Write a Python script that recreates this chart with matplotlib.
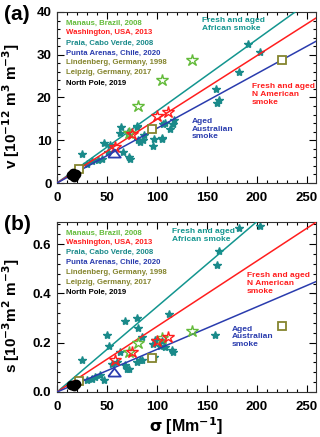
import matplotlib
matplotlib.use("Agg")
import matplotlib.pyplot as plt
from matplotlib.ticker import MultipleLocator, FormatStrFormatter

plt.rcParams['font.family'] = ['Liberation Sans', 'DejaVu Sans']
plt.rcParams['font.weight'] = 'bold'
plt.rcParams['mathtext.default'] = 'bf'

# ---------------- data ----------------
# Praia, Cabo Verde (teal filled stars)
praia_sig_a = [24.7, 34.7, 41.3, 44.7, 47.3, 53, 51.3, 63.7, 63, 66.3, 72, 73, 79.7, 80.7, 83, 86.3,
               87.3, 97.3, 104.7, 95.7, 106.3, 113, 116.3, 117.3, 105, 108, 71, 80, 30,
               158.7, 162, 160, 182, 190.7, 203]
praia_v = [6.7, 5.1, 5.3, 5.5, 9.4, 8.8, 7.3, 13.1, 11.6, 7.3, 6.0, 5.5, 13.1, 10.1, 9.6, 10.1,
           11.2, 10.3, 10.3, 8.6, 13.9, 12.6, 13.9, 14.8, 10.5, 14.0, 11.9, 13.3, 4.5,
           22.0, 19.5, 18.7, 26.0, 32.6, 30.7]
praia_sig_b = [24.7, 50.3, 52, 68, 79.7, 80.7, 84.7, 112.3, 63, 54.7, 59.7, 68, 69.7, 72, 47.3,
               43, 38, 34.7, 29.7, 79.7, 83, 85.3, 97.3, 96.3, 98, 104.7, 108, 114.7, 116.3,
               103, 158, 160, 162, 182, 203]
praia_s = [0.128, 0.231, 0.185, 0.288, 0.301, 0.259, 0.224, 0.317, 0.161, 0.115, 0.121, 0.108,
           0.095, 0.095, 0.048, 0.068, 0.059, 0.053, 0.048, 0.121, 0.128, 0.130, 0.141, 0.195,
           0.210, 0.208, 0.181, 0.171, 0.164, 0.188, 0.232, 0.517, 0.571, 0.664, 0.675]

# Manaus, Brazil (green open stars)
manaus_sig = [72, 81.3, 104.7, 134.7]
manaus_v = [11.6, 17.9, 24.0, 28.8]
manaus_s = [0.164, 0.197, 0.219, 0.248]

# Washington, USA (red open stars)
wash_sig = [58, 75, 99.5, 111]
wash_v = [8.4, 11.5, 15.6, 16.7]
wash_s = [0.131, 0.161, 0.205, 0.224]

# Punta Arenas, Chile (blue open triangle)
punta_sig = [56.7]
punta_v = [7.0]
punta_s = [0.081]

# Lindenberg 1998 / Leipzig 2017 (olive open squares)
linden_sig = [94.7, 224.7]
linden_v = [12.7, 28.8]
linden_s = [0.137, 0.268]
leipzig_sig = [22.3]
leipzig_v = [3.2]
leipzig_s = [0.043]

# North Pole (black filled circles)
np_sig = [14, 17, 19, 16]
np_v = [1.8, 1.5, 2.0, 2.3]
np_s = [0.030, 0.025, 0.032, 0.028]

# fit lines (slopes)
slope_v = {'africa': 0.168, 'namerica': 0.149, 'australia': 0.128}
slope_s = {'africa': 0.00346, 'namerica': 0.00266, 'australia': 0.00173}

legend_labels = ["Manaus, Brazil, 2008", "Washington, USA, 2013", "Praia, Cabo Verde, 2008",
                 "Punta Arenas, Chile, 2020", "Lindenberg, Germany, 1998",
                 "Leipzig, Germany, 2017", "North Pole, 2019"]

# ---------------- styles ----------------
C_GREEN = '#63bb3a'
C_RED = '#ff1e1e'
C_TEAL = '#1a8a8a'
C_TEALLINE = '#13958f'
C_BLUE = '#2a3cae'
C_OLIVE = '#85852e'
C_BLACK = '#000000'
legend_colors = [C_GREEN, C_RED, C_TEAL, C_BLUE, C_OLIVE, C_OLIVE, C_BLACK]

XMAX = 259
fig = plt.figure(figsize=(3.2, 4.37), dpi=100)
ax_a = fig.add_axes([57/320, 1-183/437, 259/320, 171/437])
ax_b = fig.add_axes([57/320, 1-392/437, 259/320, 170/437])

tri = [(-1, -0.65), (1, -0.65), (0, 0.65), (-1, -0.65)]


def draw(ax, praia_x, praia_y, man_y, wash_y, punta_y, lind_y, leip_y, np_y, slopes):
    ax.plot(praia_x, praia_y, ls='none', marker='*', ms=6, color=C_TEAL, mec=C_TEAL, zorder=2)
    xs = [0, XMAX]
    ax.plot(xs, [0, slopes['africa']*XMAX], color=C_TEALLINE, lw=1.1, zorder=3)
    ax.plot(xs, [0, slopes['namerica']*XMAX], color=C_RED, lw=1.1, zorder=3)
    ax.plot(xs, [0, slopes['australia']*XMAX], color=C_BLUE, lw=1.1, zorder=3)
    ax.plot(manaus_sig, man_y, ls='none', marker='*', ms=9, mfc='none', mec=C_GREEN, mew=1.0, zorder=4)
    ax.plot(wash_sig, wash_y, ls='none', marker='*', ms=9, mfc='none', mec=C_RED, mew=1.0, zorder=4)
    ax.plot(punta_sig, punta_y, ls='none', marker=tri, ms=9, mfc='none', mec=C_BLUE, mew=1.3, zorder=4)
    ax.plot(linden_sig, lind_y, ls='none', marker='s', ms=6, mfc='white', mec=C_OLIVE, mew=1.3, zorder=4)
    ax.plot(leipzig_sig, leip_y, ls='none', marker='s', ms=6, mfc='white', mec=C_OLIVE, mew=1.3, zorder=4)
    ax.plot(np_sig, np_y, ls='none', marker='o', ms=6, color=C_BLACK, zorder=5)

    ax.set_xlim(0, XMAX)
    ax.xaxis.set_major_locator(MultipleLocator(50))
    ax.xaxis.set_minor_locator(MultipleLocator(10))
    ax.tick_params(which='both', direction='in', top=True, right=True, width=0.8)
    ax.tick_params(which='major', length=5, labelsize=9.5)
    ax.tick_params(which='minor', length=2.5)
    ax.tick_params(axis='x', pad=6.5)
    ax.tick_params(axis='y', pad=4)
    for sp in ax.spines.values():
        sp.set_linewidth(0.8)
        sp.set_color('#333333')

    for i, (t, c) in enumerate(zip(legend_labels, legend_colors)):
        ax.text(0.035, 1 - (11 + 10*i)/171, t, color=c, fontsize=5.6, fontweight='bold',
                transform=ax.transAxes, va='center', ha='left')


draw(ax_a, praia_sig_a, praia_v, manaus_v, wash_v, punta_v, linden_v, leipzig_v, np_v, slope_v)
draw(ax_b, praia_sig_b, praia_s, manaus_s, wash_s, punta_s, linden_s, leipzig_s, np_s, slope_s)

ax_a.set_ylim(0, 40)
ax_a.yaxis.set_major_locator(MultipleLocator(10))
ax_a.yaxis.set_minor_locator(MultipleLocator(2))
ax_b.set_ylim(0, 0.69)
ax_b.yaxis.set_major_locator(MultipleLocator(0.2))
ax_b.yaxis.set_minor_locator(MultipleLocator(0.04))
ax_b.yaxis.set_major_formatter(FormatStrFormatter('%.1f'))

ax_a.set_ylabel(r'v [10$^{-12}$ m$^{3}$ m$^{-3}$]', fontsize=11, fontweight='bold')
ax_a.yaxis.set_label_coords(-0.135, 0.45)
ax_b.set_ylabel(r's [10$^{-3}$m$^{2}$ m$^{-3}$]', fontsize=11, fontweight='bold')
ax_b.yaxis.set_label_coords(-0.135, 0.45)
ax_b.set_xlabel(r'$\sigma$ [Mm$^{-1}$]', fontsize=11.5, fontweight='bold')
ax_b.xaxis.set_label_coords(0.5, -0.135)

ann = dict(fontsize=6, fontweight='bold', va='center', ha='left', linespacing=1.15)
ax_a.text(145, 37.0, 'Fresh and aged\nAfrican smoke', color=C_TEALLINE, **ann)
ax_a.text(195, 20.7, 'Fresh and aged\nN American\nsmoke', color=C_RED, **ann)
ax_a.text(135, 12.6, 'Aged\nAustralian\nsmoke', color=C_BLUE, **ann)
ax_b.text(115, 0.636, 'Fresh and aged\nAfrican smoke', color=C_TEALLINE, **ann)
ax_b.text(190, 0.44, 'Fresh and aged\nN American\nsmoke', color=C_RED, **ann)
ax_b.text(175, 0.224, 'Aged\nAustralian\nsmoke', color=C_BLUE, **ann)

fig.text(17/320, 1-15/437, '(a)', fontsize=15, fontweight='bold', ha='center', va='center')
fig.text(17/320, 1-224/437, '(b)', fontsize=15, fontweight='bold', ha='center', va='center')

fig.savefig('out.png', dpi=100)
